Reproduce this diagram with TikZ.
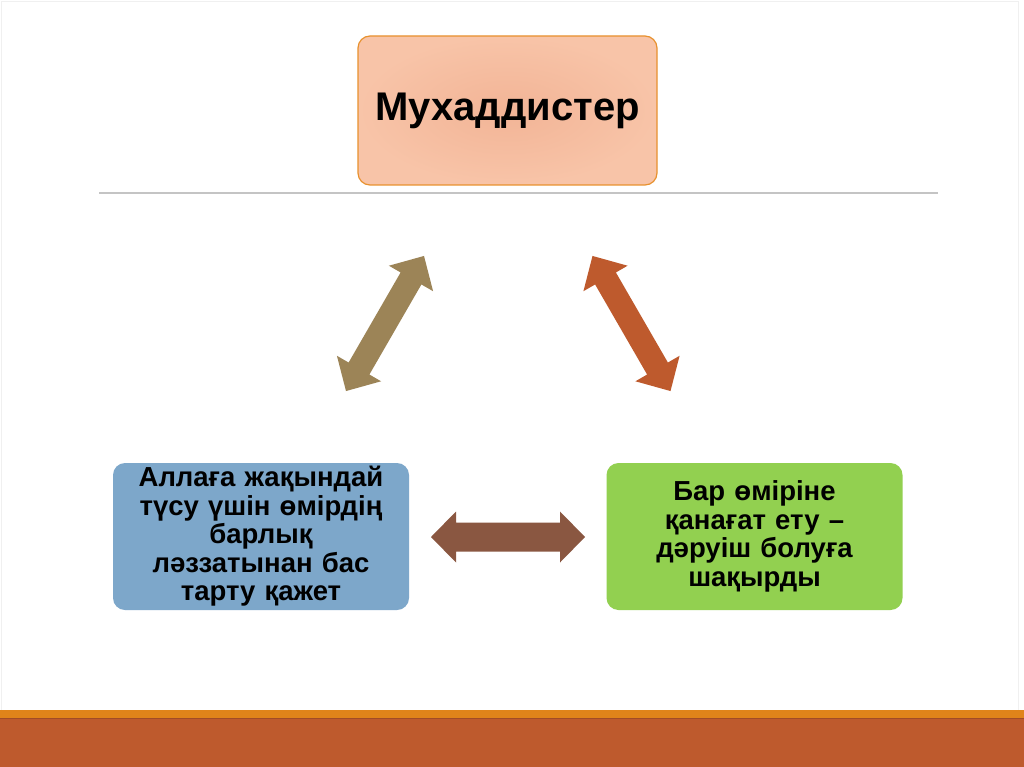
\documentclass[tikz,border=0pt]{standalone}
\usepackage{fontspec}
\setmainfont{Liberation Sans}
\usetikzlibrary{calc}
\definecolor{peachin}{HTML}{F2B496}
\definecolor{peachout}{HTML}{F8C4A8}
\definecolor{peachline}{HTML}{E8912E}
\definecolor{bluefill}{HTML}{7DA7CA}
\definecolor{greenfill}{HTML}{92D050}
\definecolor{khaki}{HTML}{9C8457}
\definecolor{rust}{HTML}{BE5A2D}
\definecolor{brownarr}{HTML}{8A5741}
\definecolor{orangebar}{HTML}{E0841A}
\definecolor{sepline}{HTML}{C4C4C4}
\tikzset{
  topbox/.style={rectangle, rounded corners=12pt, draw=peachline, line width=1.2pt,
    inner color=peachin, outer color=peachout,
    minimum width=299pt, minimum height=149pt, font=\fontsize{40}{44}\selectfont\bfseries},
  lowbox/.style={rectangle, rounded corners=12pt, draw=none,
    minimum width=296pt, minimum height=147pt, align=center, text width=285pt,
    font=\fontsize{27.5}{28.5}\selectfont\bfseries},
}
\newcommand{\dblarrow}[6]{% center, angle, halflength, headlen, headhalf, shafthalf
  \begin{scope}[shift={#1}, rotate=#2]
    \fill[arrowcolor] (#3,0) -- ({#3-#4},#5) -- ({#3-#4},#6) -- ({-#3+#4},#6) -- ({-#3+#4},#5)
      -- (-#3,0) -- ({-#3+#4},-#5) -- ({-#3+#4},-#6) -- ({#3-#4},-#6) -- ({#3-#4},-#5) -- cycle;
  \end{scope}}
\begin{document}
\begin{tikzpicture}[x=1pt,y=-1pt]
\useasboundingbox (0,0) rectangle (1024,767);
\fill[white] (0,0) rectangle (1024,767);
% faint slide frame
\draw[gray!12, line width=1pt] (1.5,1.5) rectangle (1018.5,712);
% bottom bars
\fill[orangebar] (0,710) rectangle (1024,718);
\fill[rust] (0,718) rectangle (1024,767);
\draw[rust!85!black, line width=0.8pt] (0,718) -- (1024,718);
% separator line
\coordinate (sepL) at (99,193);
\coordinate (sepR) at (938,193);
\draw[sepline, line width=1.6pt] (sepL) -- (sepR);
% boxes
\node[topbox] (top) at (507.5,110.5) {Мухаддистер};
\node[lowbox, fill=bluefill] (left) at (261,536.5) {Аллаға жақындай\\түсу үшін өмірдің\\барлық\\ләззатынан бас\\тарту қажет};
\node[lowbox, fill=greenfill] (right) at (754.5,536.5) {Бар өміріне\\қанағат ету –\\дәруіш болуға\\шақырды};
% arrows
\coordinate (arrL) at (385,323.5);
\coordinate (arrR) at (631.5,323.5);
\coordinate (arrB) at (508,537);
\colorlet{arrowcolor}{khaki}
\dblarrow{(arrL)}{60}{78}{26}{25.5}{12}
\colorlet{arrowcolor}{rust}
\dblarrow{(arrR)}{-60}{78}{26}{25.5}{12}
\colorlet{arrowcolor}{brownarr}
\dblarrow{(arrB)}{0}{77}{25}{25.5}{14.5}
\end{tikzpicture}
\end{document}
